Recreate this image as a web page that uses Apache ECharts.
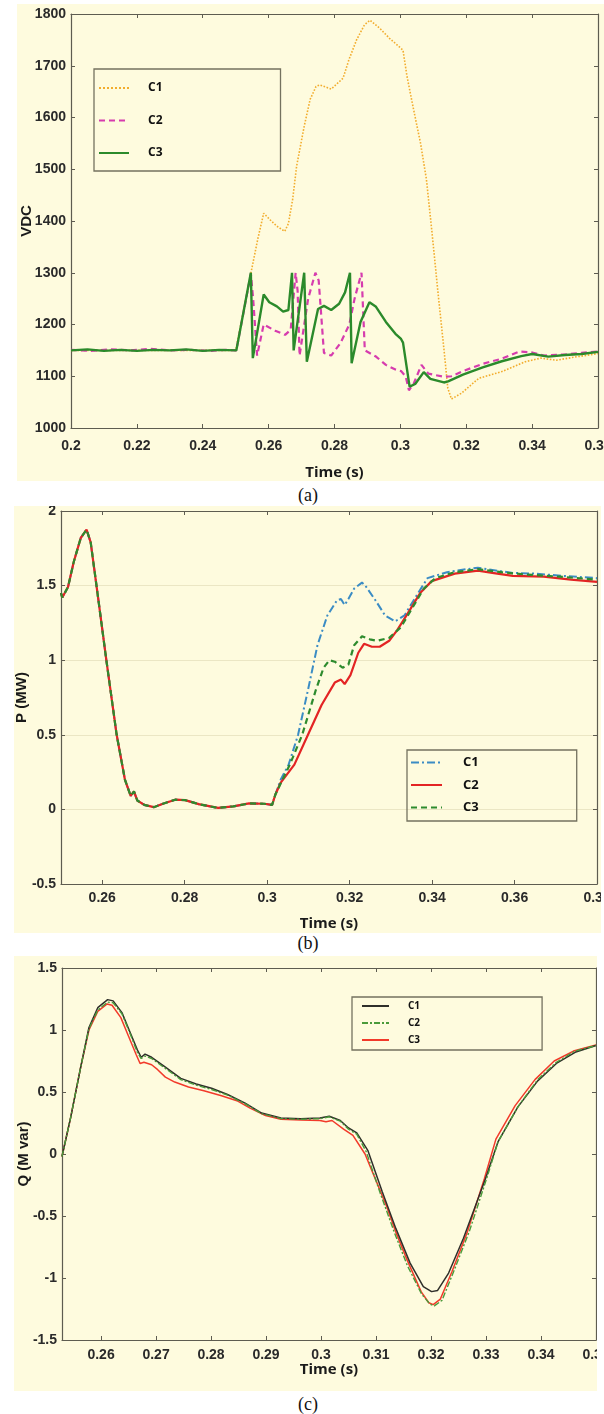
<!DOCTYPE html>
<html>
<head>
<meta charset="utf-8">
<title>VDC, P and Q</title>
<script src="https://cdn.jsdelivr.net/npm/echarts@6/dist/echarts.min.js"></script>
<style>
body{margin:0;background:#fff;width:604px;height:1414px;position:relative;overflow:hidden;}
.panel{position:absolute;background:#fefbde;}
.cap{position:absolute;left:0;width:616px;text-align:center;line-height:20px;
     font-family:'Liberation Serif','Times New Roman',serif;font-size:18px;color:#111;}
</style>
</head>
<body>
<div id="chartA" class="panel" style="left:17px;top:4px;width:587px;height:477px;"></div>
<div class="cap" style="top:485px;">(a)</div>
<div id="chartB" class="panel" style="left:14px;top:506px;width:587px;height:427px;"></div>
<div class="cap" style="top:933px;">(b)</div>
<div id="chartC" class="panel" style="left:14px;top:956px;width:583px;height:435px;"></div>
<div class="cap" style="top:1394px;">(c)</div>
<script>
// ---- (a) DC voltage, [time, V]
var vdcC1 = [[0.2,1150],[0.25,1150],[0.2502,1150],[0.2549,1308],[0.2567,1365],[0.2585,1415],[0.2605,1402],[0.2625,1390],[0.2649,1380],[0.266,1395],[0.2673,1442],[0.2685,1506],[0.2708,1583],[0.2726,1635],[0.2744,1660],[0.2755,1663],[0.279,1655],[0.2826,1676],[0.2844,1712],[0.2867,1750],[0.2891,1779],[0.2908,1788],[0.2938,1772],[0.2967,1753],[0.2996,1737],[0.3008,1730],[0.302,1680],[0.3038,1622],[0.3061,1551],[0.3079,1481],[0.3096,1378],[0.3114,1263],[0.3132,1154],[0.3144,1077],[0.3155,1056],[0.3185,1067],[0.3238,1096],[0.3308,1109],[0.3379,1128],[0.3426,1135],[0.3473,1131],[0.352,1136],[0.36,1144]];
var vdcC2 = [[0.2,1151],[0.206,1149],[0.212,1152],[0.218,1150],[0.224,1153],[0.23,1150],[0.236,1151],[0.242,1149],[0.247,1151],[0.2502,1150],[0.2546,1298],[0.2553,1250],[0.2565,1140],[0.2585,1200],[0.262,1188],[0.265,1180],[0.2667,1190],[0.2682,1300],[0.2688,1265],[0.2694,1140],[0.272,1250],[0.2742,1300],[0.2752,1285],[0.2768,1145],[0.279,1140],[0.2818,1164],[0.2845,1200],[0.2861,1250],[0.2882,1300],[0.2892,1150],[0.2926,1138],[0.2956,1122],[0.2985,1113],[0.3002,1110],[0.3016,1100],[0.3026,1073],[0.304,1085],[0.3064,1122],[0.3085,1105],[0.3132,1099],[0.3155,1100],[0.319,1110],[0.325,1124],[0.3308,1134],[0.3362,1148],[0.34,1146],[0.3435,1140],[0.35,1142],[0.355,1145],[0.36,1148]];
var vdcC3 = [[0.2,1150],[0.205,1152],[0.21,1149],[0.215,1151],[0.22,1149],[0.225,1151],[0.23,1150],[0.235,1152],[0.24,1149],[0.245,1151],[0.2502,1150],[0.2546,1300],[0.2552,1135],[0.2585,1258],[0.2602,1243],[0.2625,1235],[0.2644,1225],[0.266,1228],[0.2671,1300],[0.2676,1150],[0.2708,1300],[0.2716,1128],[0.275,1230],[0.2768,1236],[0.279,1228],[0.2814,1240],[0.2832,1262],[0.2847,1300],[0.2852,1125],[0.2879,1205],[0.2906,1243],[0.2925,1235],[0.2956,1205],[0.2985,1182],[0.3002,1172],[0.3008,1165],[0.3028,1080],[0.3045,1085],[0.3071,1108],[0.3091,1095],[0.3132,1088],[0.3145,1090],[0.319,1103],[0.325,1117],[0.3308,1129],[0.3367,1139],[0.34,1143],[0.3449,1138],[0.35,1141],[0.355,1143],[0.36,1147]];

// ---- (b) active power, [time, MW]; all three share the first part
var pStart = [[0.25,1.45],[0.2503,1.42],[0.2517,1.49],[0.2531,1.66],[0.2548,1.82],[0.2562,1.875],[0.2572,1.79],[0.2588,1.46],[0.261,1.0],[0.2635,0.5],[0.2655,0.2],[0.2669,0.09],[0.2677,0.12],[0.2685,0.06],[0.2702,0.03],[0.2725,0.015],[0.2749,0.04],[0.2777,0.065],[0.2801,0.062],[0.2834,0.035],[0.2881,0.01],[0.2918,0.02],[0.2956,0.04],[0.2993,0.038],[0.3012,0.03]];
var pC1 = [[0.302,0.1],[0.3033,0.2],[0.3052,0.3],[0.3075,0.5],[0.3099,0.8],[0.3122,1.1],[0.3146,1.3],[0.3169,1.4],[0.3179,1.41],[0.3188,1.37],[0.3197,1.41],[0.3211,1.48],[0.323,1.52],[0.3238,1.5],[0.3263,1.4],[0.3286,1.3],[0.331,1.26],[0.3333,1.3],[0.3366,1.45],[0.3389,1.55],[0.3436,1.59],[0.3483,1.61],[0.3511,1.62],[0.3558,1.6],[0.3596,1.585],[0.3652,1.58],[0.3718,1.565],[0.38,1.55]];
var pC2 = [[0.302,0.1],[0.3033,0.18],[0.3066,0.3],[0.3099,0.5],[0.3132,0.7],[0.3164,0.85],[0.3179,0.87],[0.3188,0.84],[0.3202,0.9],[0.3221,1.05],[0.3235,1.11],[0.3254,1.09],[0.3273,1.09],[0.3296,1.13],[0.3315,1.2],[0.3338,1.3],[0.3371,1.45],[0.3399,1.53],[0.3455,1.58],[0.3511,1.6],[0.3558,1.58],[0.3596,1.565],[0.3671,1.56],[0.3737,1.54],[0.38,1.525]];
var pC3 = [[0.302,0.1],[0.3055,0.3],[0.3085,0.5],[0.3118,0.8],[0.3137,0.95],[0.3151,1.0],[0.3164,0.99],[0.3183,0.95],[0.3197,0.97],[0.3211,1.1],[0.323,1.16],[0.3249,1.14],[0.3267,1.13],[0.3296,1.15],[0.3324,1.22],[0.3352,1.35],[0.338,1.48],[0.3408,1.55],[0.3455,1.59],[0.3511,1.61],[0.3568,1.59],[0.3624,1.575],[0.3708,1.56],[0.38,1.54]];
var pTicksX = [0.26,0.28,0.3,0.32,0.34,0.36,0.38];

// ---- (c) reactive power, [time, Mvar]
var qC1 = [[0.2529,-0.02],[0.2545,0.3],[0.2563,0.7],[0.2578,1.02],[0.2594,1.18],[0.2612,1.245],[0.2622,1.235],[0.2638,1.14],[0.2652,0.99],[0.2666,0.84],[0.2673,0.78],[0.268,0.805],[0.2692,0.78],[0.2717,0.7],[0.2745,0.61],[0.2773,0.565],[0.2801,0.53],[0.283,0.48],[0.2862,0.41],[0.2892,0.33],[0.2927,0.29],[0.2963,0.285],[0.2998,0.29],[0.3015,0.305],[0.3035,0.27],[0.305,0.21],[0.3065,0.17],[0.3085,0.03],[0.3111,-0.3],[0.3136,-0.6],[0.3162,-0.88],[0.3186,-1.07],[0.3201,-1.11],[0.3212,-1.1],[0.3232,-0.96],[0.3259,-0.68],[0.3299,-0.2],[0.3322,0.1],[0.3358,0.38],[0.3394,0.59],[0.3428,0.73],[0.3462,0.82],[0.35,0.875]];
var qC2 = [[0.2529,-0.02],[0.2545,0.3],[0.2563,0.7],[0.2578,1.01],[0.2594,1.16],[0.2612,1.225],[0.2622,1.22],[0.2638,1.13],[0.2652,0.98],[0.2666,0.82],[0.2673,0.77],[0.268,0.79],[0.2692,0.77],[0.2717,0.69],[0.2745,0.6],[0.2773,0.555],[0.2801,0.52],[0.283,0.475],[0.2862,0.405],[0.2892,0.325],[0.2927,0.285],[0.2963,0.28],[0.2998,0.285],[0.3015,0.3],[0.3035,0.265],[0.305,0.2],[0.3065,0.16],[0.3082,0.02],[0.3108,-0.32],[0.3134,-0.64],[0.3157,-0.9],[0.3183,-1.13],[0.3198,-1.21],[0.3206,-1.225],[0.322,-1.18],[0.3241,-0.95],[0.327,-0.62],[0.3301,-0.2],[0.3322,0.1],[0.3358,0.38],[0.3394,0.6],[0.3428,0.74],[0.3462,0.83],[0.35,0.875]];
var qC3 = [[0.2529,-0.02],[0.2545,0.3],[0.2563,0.7],[0.2578,1.0],[0.2594,1.15],[0.2611,1.21],[0.262,1.2],[0.2636,1.1],[0.265,0.95],[0.2664,0.8],[0.2671,0.73],[0.2678,0.74],[0.2692,0.72],[0.2703,0.68],[0.2717,0.62],[0.2734,0.58],[0.2759,0.54],[0.2787,0.51],[0.2819,0.47],[0.2847,0.43],[0.2871,0.37],[0.2899,0.31],[0.2927,0.28],[0.2963,0.275],[0.2998,0.27],[0.3009,0.26],[0.302,0.27],[0.3041,0.2],[0.3058,0.15],[0.308,0.0],[0.3094,-0.15],[0.3119,-0.42],[0.3136,-0.63],[0.3157,-0.86],[0.3182,-1.11],[0.3196,-1.2],[0.3204,-1.215],[0.3217,-1.17],[0.3238,-0.95],[0.3266,-0.63],[0.3297,-0.2],[0.3318,0.12],[0.3353,0.39],[0.3389,0.6],[0.3424,0.75],[0.3459,0.83],[0.35,0.88]];
var qTicksX = [0.26,0.27,0.28,0.29,0.3,0.31,0.32,0.33,0.34,0.35];

var axisColor = '#5e5c50';
var tickFont = "'Liberation Sans', Arial, sans-serif";

function fmt(v) { return String(+(+v).toFixed(2)); }

function makeChart(id, c) {
    var chart = echarts.init(document.getElementById(id), null, {renderer: 'canvas'});
    var line = {onZero: false, lineStyle: {color: axisColor, width: 1.2}};
    var tick = {inside: true, length: 4, lineStyle: {color: axisColor}, customValues: c.xTicks};
    var labelStyle = {fontFamily: tickFont, fontWeight: 'bold', fontSize: 14, color: '#2a2a2a'};
    var xMain = {
        type: 'value', position: 'bottom', min: c.xMin, max: c.xMax, interval: c.xInterval,
        axisLine: line, axisTick: tick, splitLine: {show: false},
        axisLabel: Object.assign({customValues: c.xTicks, formatter: fmt, margin: c.xMargin,
                                  showMinLabel: true, showMaxLabel: true}, labelStyle),
        name: 'Time (s)', nameLocation: 'middle', nameGap: c.xNameGap, nameMoveOverlap: false,
        nameTextStyle: {fontFamily: 'Open Sans', fontWeight: 'bold', fontSize: 15, color: '#1a1a1a'}
    };
    var xTop = {
        type: 'value', position: 'top', min: c.xMin, max: c.xMax, interval: c.xInterval,
        axisLine: line, axisTick: tick, axisLabel: {show: false}, splitLine: {show: false}
    };
    var yMain = {
        type: 'value', position: 'left', min: c.yMin, max: c.yMax, interval: c.yInterval,
        axisLine: line, axisTick: {inside: true, length: 4, lineStyle: {color: axisColor}},
        splitLine: {show: !!c.grid, lineStyle: {color: '#ebe6c4', width: 1}},
        axisLabel: Object.assign({margin: 5, formatter: fmt, showMinLabel: true, showMaxLabel: true}, labelStyle),
        name: c.yName, nameLocation: 'middle', nameRotate: 90, nameGap: c.yNameGap, nameMoveOverlap: false,
        nameTextStyle: {fontFamily: tickFont, fontWeight: 'bold', fontSize: 15, color: '#1a1a1a'}
    };
    var yRight = {
        type: 'value', position: 'right', min: c.yMin, max: c.yMax, interval: c.yInterval,
        axisLine: line, axisTick: {inside: true, length: 4, lineStyle: {color: axisColor}},
        axisLabel: {show: false}, splitLine: {show: false}
    };
    var series = c.series.map(function (s) {
        return {
            name: s.name, type: 'line', data: s.data, symbol: 'none', xAxisIndex: 0, yAxisIndex: 0,
            lineStyle: {color: s.color, width: s.width, type: s.type}, itemStyle: {color: s.color},
            z: s.z || 2
        };
    });
    chart.setOption({
        animation: false,
        backgroundColor: 'transparent',
        grid: c.gridPos,
        xAxis: [xMain, xTop],
        yAxis: [yMain, yRight],
        legend: c.legend,
        series: series
    });
    return chart;
}

function legendBox(pos, opts) {
    return Object.assign({
        orient: 'vertical', selectedMode: false, data: ['C1', 'C2', 'C3'],
        borderColor: '#74725f', borderWidth: 1.3, borderRadius: 0, backgroundColor: 'transparent',
        // line only, no marker in the key
        itemStyle: {color: 'transparent', borderWidth: 0, opacity: 0}
    }, pos, opts);
}

makeChart('chartA', {
    xMin: 0.2, xMax: 0.36, xInterval: 0.02, xMargin: 11, xNameGap: 37,
    yMin: 1000, yMax: 1800, yInterval: 100, yName: 'VDC', yNameGap: 37,
    gridPos: {left: 54, top: 10, width: 527, height: 414, outerBoundsMode: 'none'},
    legend: legendBox({left: 77, top: 65}, {
        itemWidth: 30, itemHeight: 14, itemGap: 20.5, padding: [13, 118, 12, 4],
        textStyle: {fontFamily: 'Open Sans', fontWeight: 'bold', fontSize: 12, color: '#111', padding: [0, 0, 0, 14]}
    }),
    series: [
        {name: 'C1', data: vdcC1, color: '#f2ad2e', width: 1.6, type: 'dotted'},
        {name: 'C2', data: vdcC2, color: '#d63cae', width: 2.2, type: [6, 4]},
        {name: 'C3', data: vdcC3, color: '#2b8a2b', width: 2.4, type: 'solid', z: 3}
    ]
});

makeChart('chartB', {
    xMin: 0.25, xMax: 0.38, xTicks: pTicksX, xMargin: 7, xNameGap: 32,
    yMin: -0.5, yMax: 2, yInterval: 0.5, yName: 'P (MW)', yNameGap: 32, grid: true,
    gridPos: {left: 47, top: 5, width: 536, height: 373, outerBoundsMode: 'none'},
    legend: legendBox({left: 393, top: 244}, {
        itemWidth: 31, itemHeight: 14, itemGap: 9.5, padding: [6, 98, 7, 3],
        textStyle: {fontFamily: 'Open Sans', fontWeight: 'bold', fontSize: 13, color: '#111', padding: [0, 0, 0, 16]}
    }),
    series: [
        {name: 'C1', data: pStart.concat(pC1), color: '#3b8cc4', width: 2, type: [8, 3, 2, 3]},
        {name: 'C2', data: pStart.concat(pC2), color: '#e32424', width: 2.2, type: 'solid'},
        {name: 'C3', data: pStart.concat(pC3), color: '#2e8b2e', width: 2.2, type: [6, 4], z: 3}
    ]
});

makeChart('chartC', {
    xMin: 0.2529, xMax: 0.35, xTicks: qTicksX, xMargin: 8, xNameGap: 22,
    yMin: -1.5, yMax: 1.5, yInterval: 0.5, yName: 'Q (M var)', yNameGap: 31,
    gridPos: {left: 48, top: 12, width: 534, height: 372, outerBoundsMode: 'none'},
    legend: legendBox({left: 338, top: 41}, {
        itemWidth: 27, itemHeight: 10, itemGap: 7, padding: [4, 122, 5, 9],
        textStyle: {fontFamily: 'Open Sans', fontWeight: 'bold', fontSize: 10, color: '#111', padding: [0, 0, 0, 14]}
    }),
    series: [
        {name: 'C3', data: qC3, color: '#f23a2a', width: 1.5, type: 'solid'},
        {name: 'C1', data: qC1, color: '#2f2f2a', width: 1.5, type: 'solid'},
        {name: 'C2', data: qC2, color: '#4a9a3a', width: 1.4, type: [6, 2, 2, 2], z: 3}
    ]
});
</script>
</body>
</html>
